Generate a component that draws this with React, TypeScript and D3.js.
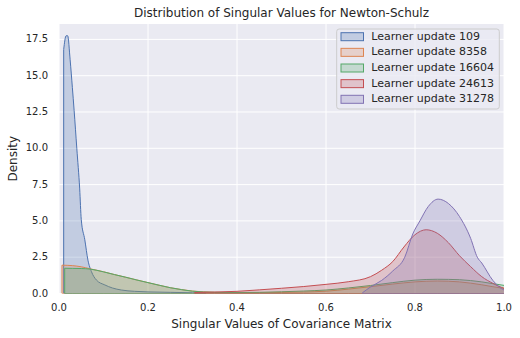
import React from 'react';
import * as d3 from 'd3';

const seriesNames = ['Learner update 109', 'Learner update 8358', 'Learner update 16604', 'Learner update 24613', 'Learner update 31278'];
const seriesColors = ['#4C72B0', '#DD8452', '#55A868', '#C44E52', '#8172B3'];

// singular value grid / density for each learner update
const x109 = [0.0105, 0.016, 0.0195, 0.025, 0.03, 0.034, 0.04, 0.0465, 0.05, 0.058, 0.065, 0.073, 0.084, 0.103, 0.12, 0.14, 0.17, 0.2, 0.25, 0.3, 0.33];
const d109 = [16.8, 17.75, 17.75, 16.1, 14.2, 12.6, 10.0, 7.2, 5.1, 3.7, 2.3, 1.5, 0.93, 0.59, 0.38, 0.24, 0.15, 0.11, 0.08, 0.05, 0.03];

const x8358 = [0.0067, 0.03, 0.05, 0.07, 0.1, 0.125, 0.15, 0.175, 0.2, 0.225, 0.25, 0.275, 0.3, 0.35, 0.4, 0.45, 0.5, 0.55, 0.6, 0.65, 0.7, 0.75, 0.8, 0.85, 0.9, 0.95, 1.0, 1.02];
const d8358 = [1.95, 1.92, 1.84, 1.7, 1.5, 1.3, 1.12, 0.93, 0.75, 0.57, 0.4, 0.27, 0.17, 0.08, 0.05, 0.05, 0.07, 0.1, 0.16, 0.3, 0.47, 0.65, 0.8, 0.86, 0.8, 0.6, 0.35, 0.3];

const x16604 = [0.0128, 0.03, 0.05, 0.07, 0.1, 0.125, 0.15, 0.175, 0.2, 0.225, 0.25, 0.275, 0.3, 0.35, 0.4, 0.45, 0.5, 0.55, 0.6, 0.65, 0.7, 0.75, 0.8, 0.85, 0.9, 0.95, 1.0, 1.02];
const d16604 = [1.74, 1.73, 1.72, 1.68, 1.49, 1.3, 1.12, 0.93, 0.75, 0.57, 0.4, 0.27, 0.16, 0.08, 0.07, 0.08, 0.12, 0.17, 0.24, 0.38, 0.55, 0.75, 0.92, 0.98, 0.95, 0.8, 0.56, 0.5];

const x24613 = [0.305, 0.35, 0.4, 0.45, 0.5, 0.55, 0.6, 0.65, 0.7, 0.725, 0.75, 0.775, 0.8, 0.825, 0.85, 0.875, 0.9, 0.925, 0.95, 0.975, 1.0, 1.02];
const d24613 = [0.07, 0.1, 0.15, 0.25, 0.36, 0.48, 0.63, 0.81, 1.16, 1.6, 2.2, 3.2, 4.05, 4.39, 4.15, 3.5, 2.6, 1.85, 1.16, 0.7, 0.36, 0.25];

const x31278 = [0.682, 0.7, 0.725, 0.75, 0.777, 0.795, 0.811, 0.83, 0.852, 0.875, 0.9, 0.925, 0.94, 0.95, 0.975, 1.0, 1.02];
const d31278 = [0.05, 0.45, 0.9, 1.55, 2.5, 4.1, 5.0, 6.0, 6.5, 6.2, 5.3, 3.8, 2.5, 2.1, 0.9, 0.24, 0.1];

const seriesX = [x109, x8358, x16604, x24613, x31278];
const seriesD = [d109, d8358, d16604, d24613, d31278];

const xTicks = [0, 0.2, 0.4, 0.6, 0.8, 1.0];
const yTicks = [0, 2.5, 5, 7.5, 10, 12.5, 15, 17.5];

const W = 520;
const H = 338;
const margin = { top: 24, right: 16, bottom: 44.5, left: 59 };
const font = 'DejaVu Sans, sans-serif';
const textColor = '#262626';

export default function App() {
  const x = d3.scaleLinear().domain([0, 1]).range([margin.left, W - margin.right]);
  const y = d3.scaleLinear().domain([0, 18.56]).range([H - margin.bottom, margin.top]);

  const plotW = W - margin.left - margin.right;
  const plotH = H - margin.top - margin.bottom;

  const legendX = 336.7;
  const legendY = 29;
  const rowH = 15.65;

  return (
    <svg width={W} height={H} style={{ position: 'fixed', left: 0, top: 0, background: '#fff' }}>
      <defs>
        <clipPath id="plot-clip">
          <rect x={margin.left} y={margin.top} width={plotW} height={plotH} />
        </clipPath>
      </defs>
      <rect x={margin.left} y={margin.top} width={plotW} height={plotH} fill="#EAEAF2" />
      {xTicks.map(t => (
        <line key={'gx' + t} x1={x(t)} x2={x(t)} y1={margin.top} y2={H - margin.bottom} stroke="#fff" strokeWidth={1} />
      ))}
      {yTicks.map(t => (
        <line key={'gy' + t} x1={margin.left} x2={W - margin.right} y1={y(t)} y2={y(t)} stroke="#fff" strokeWidth={1} />
      ))}
      <g clipPath="url(#plot-clip)">
        {seriesX.map((xs, i) => {
          const ds = seriesD[i];
          const pts: [number, number][] = xs.map((v, j) => [x(v), y(ds[j])]);
          const a = d3.area<[number, number]>()
            .x(p => p[0])
            .y0(y(0))
            .y1(p => p[1])
            .curve(d3.curveMonotoneX);
          return (
            <path key={i} d={a(pts) || ''} fill={seriesColors[i]} fillOpacity={0.25}
              stroke={seriesColors[i]} strokeWidth={1} strokeLinejoin="round" />
          );
        })}
      </g>
      {xTicks.map(t => (
        <text key={'tx' + t} x={x(t)} y={H - margin.bottom + 14} fontFamily={font} fontSize={10}
          fill={textColor} textAnchor="middle" dominantBaseline="middle">{t.toFixed(1)}</text>
      ))}
      {yTicks.map(t => (
        <text key={'ty' + t} x={margin.left - 11} y={y(t)} fontFamily={font} fontSize={10}
          fill={textColor} textAnchor="end" dominantBaseline="middle">{t.toFixed(1)}</text>
      ))}
      <text x={(margin.left + W - margin.right) / 2} y={13} fontFamily={font} fontSize={12}
        fill={textColor} textAnchor="middle" dominantBaseline="middle">Distribution of Singular Values for Newton-Schulz</text>
      <text x={(margin.left + W - margin.right) / 2} y={324} fontFamily={font} fontSize={12}
        fill={textColor} textAnchor="middle" dominantBaseline="middle">Singular Values of Covariance Matrix</text>
      <text transform={`translate(13,${(margin.top + H - margin.bottom) / 2}) rotate(-90)`} fontFamily={font} fontSize={12}
        fill={textColor} textAnchor="middle" dominantBaseline="middle">Density</text>
      <g>
        <rect x={legendX} y={legendY} width={162.6} height={80} rx={2.5} fill="#EAEAF2" fillOpacity={0.8} stroke="#CCCCCC" strokeWidth={1} />
        {seriesNames.map((name, i) => {
          const cy = legendY + 7.7 + i * rowH;
          return (
            <g key={name}>
              <rect x={341} y={cy - 4} width={22.5} height={8} fill={seriesColors[i]} fillOpacity={0.25} stroke={seriesColors[i]} strokeWidth={1} />
              <text x={371.3} y={cy} fontFamily={font} fontSize={11} fill={textColor} dominantBaseline="middle">{name}</text>
            </g>
          );
        })}
      </g>
    </svg>
  );
}
